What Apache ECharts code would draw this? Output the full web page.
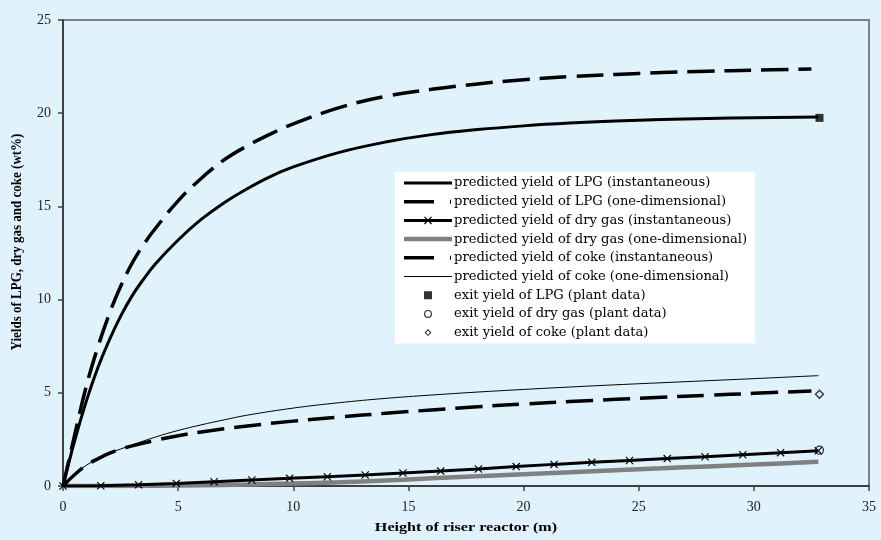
<!DOCTYPE html>
<html>
<head>
<meta charset="utf-8">
<script src="https://cdn.jsdelivr.net/npm/echarts@6/dist/echarts.min.js"></script>
<style>
html,body{margin:0;padding:0;background:#e0f2fc;}
#chart{width:881px;height:540px;}
</style>
</head>
<body>
<div id="chart"></div>
<script>
// ---- data ----
var xTicks = [0, 5, 10, 15, 20, 25, 30, 35];
var yTicks = [0, 5, 10, 15, 20, 25];

var lpgInstX = [0, 0.5, 1, 1.5, 2, 2.5, 3, 3.5, 4, 5, 6, 7, 8, 9, 10, 12, 14, 16, 18, 20, 22, 24, 26, 28, 30, 32.8];
var lpgInstY = [0, 2.4, 4.5, 6.3, 7.8, 9.1, 10.2, 11.1, 11.9, 13.2, 14.3, 15.2, 15.95, 16.6, 17.12, 17.9, 18.45, 18.85, 19.12, 19.32, 19.47, 19.58, 19.66, 19.72, 19.76, 19.8];

var lpgOneX = [0, 0.5, 1, 1.5, 2, 2.5, 3, 3.5, 4, 5, 6, 7, 8, 9, 10, 12, 14, 16, 18, 20, 22, 24, 26, 28, 30, 32.5];
var lpgOneY = [0, 2.7, 5.3, 7.4, 9.2, 10.7, 11.95, 12.95, 13.8, 15.3, 16.5, 17.5, 18.25, 18.88, 19.43, 20.3, 20.9, 21.28, 21.57, 21.8, 21.96, 22.08, 22.18, 22.25, 22.31, 22.37];

var dryInstX = [0, 1.64, 3.28, 4.92, 6.56, 8.2, 9.84, 11.48, 13.12, 14.76, 16.4, 18.04, 19.68, 21.32, 22.96, 24.6, 26.24, 27.88, 29.52, 31.16, 32.8];
var dryInstY = [0, 0.01, 0.07, 0.14, 0.23, 0.32, 0.41, 0.5, 0.59, 0.7, 0.8, 0.91, 1.04, 1.16, 1.27, 1.37, 1.47, 1.57, 1.68, 1.79, 1.89];

var dryOneX = [0, 2, 4, 6, 8, 10, 12, 14, 16, 18, 20, 22, 24, 26, 28, 30, 32.8];
var dryOneY = [0, 0, 0.01, 0.04, 0.08, 0.13, 0.2, 0.3, 0.41, 0.52, 0.63, 0.74, 0.85, 0.95, 1.05, 1.15, 1.3];

var cokeInstX = [0, 0.5, 1, 1.5, 2, 2.5, 3, 4, 5, 6, 8, 10, 12, 14, 16, 18, 20, 22, 24, 26, 28, 30, 32.5];
var cokeInstY = [0, 0.6, 1.1, 1.45, 1.75, 1.97, 2.15, 2.45, 2.7, 2.9, 3.22, 3.48, 3.7, 3.9, 4.08, 4.25, 4.4, 4.53, 4.65, 4.76, 4.87, 4.97, 5.1];

var cokeOneX = [0, 0.5, 1, 1.5, 2, 3, 4, 5, 6, 7, 8, 10, 12, 14, 16, 18, 20, 22, 24, 26, 28, 30, 32.8];
var cokeOneY = [0, 0.6, 1.1, 1.45, 1.75, 2.2, 2.62, 2.98, 3.28, 3.55, 3.8, 4.18, 4.47, 4.7, 4.88, 5.04, 5.18, 5.31, 5.43, 5.54, 5.65, 5.76, 5.92];

var plantX = [32.85];
var plantLPG = [19.75];
var plantDryGas = [1.92];
var plantCoke = [4.92];

var names = [
  'predicted yield of LPG (instantaneous)',
  'predicted yield of LPG (one-dimensional)',
  'predicted yield of dry gas (instantaneous)',
  'predicted yield of dry gas (one-dimensional)',
  'predicted yield of coke (instantaneous)',
  'predicted yield of coke (one-dimensional)',
  'exit yield of LPG (plant data)',
  'exit yield of dry gas (plant data)',
  'exit yield of coke (plant data)'
];

function pairs(xs, ys) { return xs.map(function (x, i) { return [x, ys[i]]; }); }

var FONT = '"Liberation Serif", "Times New Roman", serif';
var LFONT = '"DejaVu Serif", serif';
var crossPath = 'path://M0,1 L1,0 L5,4 L9,0 L10,1 L6,5 L10,9 L9,10 L5,6 L1,10 L0,9 L4,5 Z';

// legend icons, each drawn in a 48 x 14 box (corner points fix the box)
var BOX = 'M0,0 L0.01,0 M47.99,14 L48,14 ';
var icons = [
  'path://' + BOX + 'M0,5.5 L48,5.5 L48,8.5 L0,8.5 Z',
  'path://' + BOX + 'M0,5.3 L30,5.3 L30,8.7 L0,8.7 Z M46,5 L47,5 L47,9 L46,9 Z',
  'path://' + BOX + 'M0,5.5 L48,5.5 L48,8.5 L0,8.5 Z M20,3.85 L20.85,3 L28,10.15 L27.15,11 Z M27.15,3 L28,3.85 L20.85,11 L20,10.15 Z',
  'path://' + BOX + 'M0,4.75 L48,4.75 L48,9.25 L0,9.25 Z',
  'path://' + BOX + 'M0,5.3 L30,5.3 L30,8.7 L0,8.7 Z M46,5 L47,5 L47,9 L46,9 Z',
  'path://' + BOX + 'M0,6.5 L48,6.5 L48,7.5 L0,7.5 Z',
  'path://' + BOX + 'M20,3 L28,3 L28,11 L20,11 Z',
  'path://' + BOX + 'M28,7 A4,4 0 1,1 20,7 A4,4 0 1,1 28,7 Z M26.8,7 A2.8,2.8 0 1,0 21.2,7 A2.8,2.8 0 1,0 26.8,7 Z',
  'path://' + BOX + 'M24,3.5 L27.5,7 L24,10.5 L20.5,7 Z M24,4.9 L22.1,7 L24,9.1 L25.9,7 Z'
];
var iconColors = ['#000', '#000', '#000', '#808080', '#000', '#000', '#000', '#000', '#000'];
var legendData = names.map(function (n, i) {
  return {name: n, icon: icons[i], itemStyle: {color: iconColors[i], borderWidth: 0}};
});

var chart = echarts.init(document.getElementById('chart'), null, {renderer: 'canvas'});
var option = {
  backgroundColor: '#e0f2fc',
  animation: false,
  grid: {
    left: 63, right: 12, top: 20, bottom: 54,
    show: true, borderColor: '#808080', borderWidth: 2, backgroundColor: 'transparent',
    outerBoundsMode: 'none'
  },
  legend: {
    orient: 'vertical',
    left: 395, top: 172,
    backgroundColor: '#ffffff',
    padding: [4, 8, 4, 9],
    itemWidth: 48, itemHeight: 14, itemGap: 4.7,
    itemStyle: {borderWidth: 0},
    textStyle: {fontFamily: LFONT, fontSize: 13.1, lineHeight: 14, color: '#000', padding: [0, 0, 0, -3]},
    data: legendData
  },
  xAxis: {
    type: 'value', min: 0, max: 35, interval: 5,
    axisLine: {lineStyle: {color: '#404040', width: 2}},
    axisTick: {show: true, length: 5, lineStyle: {color: '#404040', width: 1.5}},
    axisLabel: {fontFamily: FONT, fontSize: 14, color: '#222', margin: 14,
      formatter: function (v) { return xTicks.indexOf(v) >= 0 ? String(v) : ''; }},
    splitLine: {show: false}
  },
  yAxis: {
    type: 'value', min: 0, max: 25, interval: 5,
    axisLine: {show: true, lineStyle: {color: '#404040', width: 2}},
    axisTick: {show: true, length: 5, lineStyle: {color: '#404040', width: 1.5}},
    axisLabel: {fontFamily: FONT, fontSize: 14, color: '#222', margin: 12,
      formatter: function (v) { return yTicks.indexOf(v) >= 0 ? String(v) : ''; }},
    splitLine: {show: false}
  },
  graphic: [
    {type: 'text', x: 466, y: 528, scaleX: 1.24,
      style: {text: 'Height of riser reactor (m)', font: 'bold 13px ' + FONT, fill: '#000',
        align: 'center', verticalAlign: 'middle'}},
    {type: 'text', x: 17, y: 242, rotation: Math.PI / 2, scaleY: 1.2,
      style: {text: 'Yields of LPG, dry gas and coke (wt%)', font: 'bold 13px ' + FONT, fill: '#000',
        align: 'center', verticalAlign: 'middle'}}
  ],
  series: [
    {name: names[0], type: 'line', data: pairs(lpgInstX, lpgInstY), symbol: 'none', smooth: 0.4,
      lineStyle: {color: '#000', width: 3}, itemStyle: {color: '#000'}, z: 5},
    {name: names[1], type: 'line', data: pairs(lpgOneX, lpgOneY), symbol: 'none', smooth: 0.4,
      lineStyle: {color: '#000', width: 3.5, type: [27, 10]}, itemStyle: {color: '#000'}, z: 5},
    {name: names[2], type: 'line', data: pairs(dryInstX, dryInstY), symbol: crossPath, symbolSize: 8, showSymbol: true,
      lineStyle: {color: '#000', width: 3}, itemStyle: {color: '#000'}, z: 6},
    {name: names[3], type: 'line', data: pairs(dryOneX, dryOneY), symbol: 'none', smooth: 0.4,
      lineStyle: {color: '#808080', width: 4.5}, itemStyle: {color: '#808080'}, z: 4},
    {name: names[4], type: 'line', data: pairs(cokeInstX, cokeInstY), symbol: 'none', smooth: 0.4,
      lineStyle: {color: '#000', width: 3.5, type: [27, 10]}, itemStyle: {color: '#000'}, z: 5},
    {name: names[5], type: 'line', data: pairs(cokeOneX, cokeOneY), symbol: 'none', smooth: 0.4,
      lineStyle: {color: '#000', width: 1}, itemStyle: {color: '#000'}, z: 5},
    {name: names[6], type: 'scatter', data: pairs(plantX, plantLPG), symbol: 'rect', symbolSize: 8,
      itemStyle: {color: '#000'}, z: 7},
    {name: names[7], type: 'scatter', data: pairs(plantX, plantDryGas), symbol: 'circle', symbolSize: 8,
      itemStyle: {color: 'rgba(0,0,0,0)', borderColor: '#000', borderWidth: 1.3}, z: 7},
    {name: names[8], type: 'scatter', data: pairs(plantX, plantCoke), symbol: 'diamond', symbolSize: 8,
      itemStyle: {color: 'rgba(0,0,0,0)', borderColor: '#000', borderWidth: 1.3}, z: 7}
  ]
};
chart.setOption(option);
</script>
</body>
</html>
